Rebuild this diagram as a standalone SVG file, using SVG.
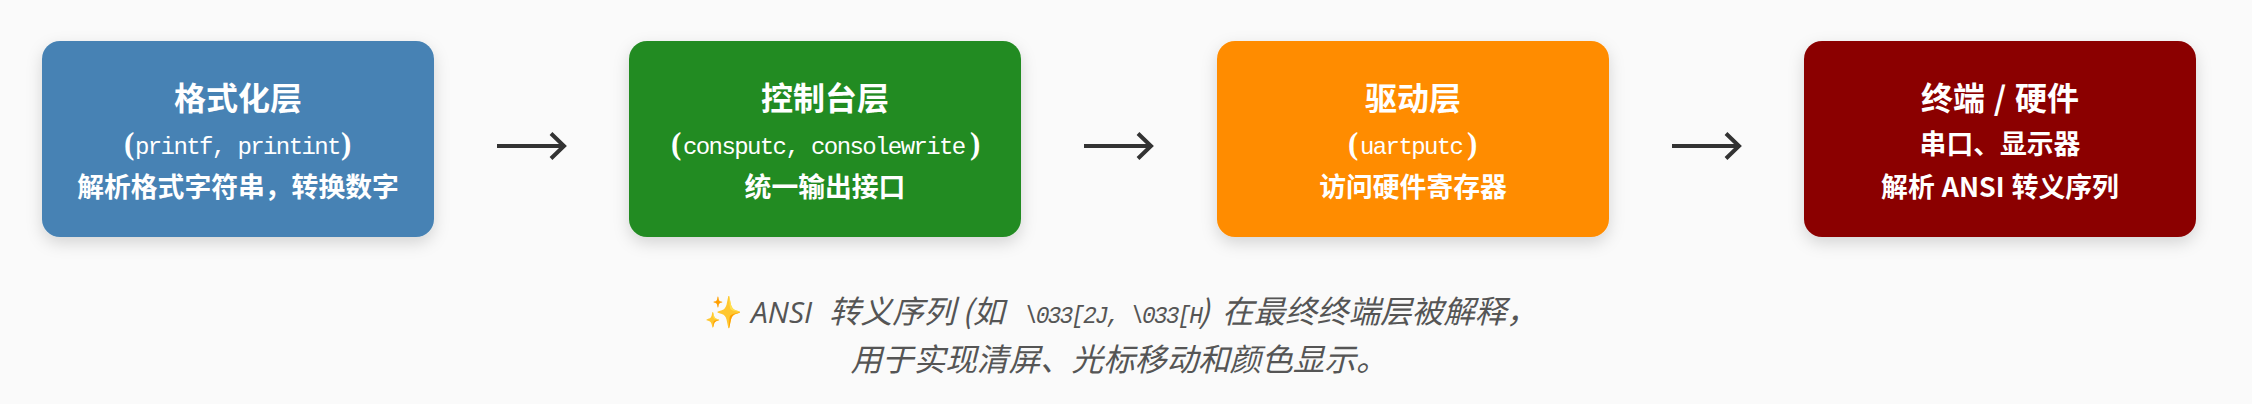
<svg xmlns="http://www.w3.org/2000/svg" width="2252" height="404" viewBox="0 0 2252 404">
<style>
text{font-family:"Noto Sans CJK SC","Noto Sans",sans-serif;text-anchor:middle}
.t{font-size:32px;font-weight:700;fill:#fff;word-spacing:1.5px}
.b{font-size:26.8px;font-weight:700;fill:#fff;word-spacing:1px}
.l{text-anchor:start}
.p{font-family:"Liberation Serif",serif;font-size:31px;font-weight:700;fill:#fff}
.c{font-family:"Liberation Mono",monospace;font-weight:400;font-size:24px;letter-spacing:-1.6px;fill:#fff}
.cap{font-size:31.6px;font-style:italic;fill:#555}
.capl{font-family:"Open Sans","Noto Sans",sans-serif;font-size:30px;font-style:italic;fill:#555}
.capc{font-family:"Liberation Mono",monospace;font-size:23px;letter-spacing:-2px;font-style:italic;fill:#555}
.em{font-size:31px;text-anchor:start;filter:hue-rotate(-18deg) saturate(1.2)}
.box{filter:url(#sh)}
.a{fill:none;stroke:#333;stroke-width:4}
</style>
<defs>
<filter id="sh" x="-15%" y="-15%" width="130%" height="135%"><feDropShadow dx="0" dy="6" stdDeviation="8" flood-color="#000" flood-opacity=".15"/></filter>
</defs>
<rect width="2252" height="404" fill="#fafafa"/>
<g id="connectors">
<path class="a" d="M497 146H563M551 133.500L564 146L551 158.500"/>
<path class="a" d="M1084 146H1150M1138 133.500L1151 146L1138 158.500"/>
<path class="a" d="M1672 146H1738M1726 133.500L1739 146L1726 158.500"/>
</g>
<g id="node-format">
<rect class="box" x="42" y="41" width="392" height="196" rx="18" fill="#4682b4"/>
<text class="t" x="238" y="110">格式化层</text>
<text class="l" y="154"><tspan class="p" x="124">(</tspan><tspan class="c" x="135">printf, printint</tspan><tspan class="p" x="341">)</tspan></text>
<text class="b" x="238" y="197">解析格式字符串，转换数字</text>
</g>
<g id="node-console">
<rect class="box" x="629" y="41" width="392" height="196" rx="18" fill="#228b22"/>
<text class="t" x="825" y="110">控制台层</text>
<text class="l" y="154"><tspan class="p" x="671">(</tspan><tspan class="c" x="683">consputc, consolewrite</tspan><tspan class="p" x="970">)</tspan></text>
<text class="b" x="825" y="197">统一输出接口</text>
</g>
<g id="node-driver">
<rect class="box" x="1217" y="41" width="392" height="196" rx="18" fill="#ff8c00"/>
<text class="t" x="1413" y="110">驱动层</text>
<text class="l" y="154"><tspan class="p" x="1348">(</tspan><tspan class="c" x="1360">uartputc</tspan><tspan class="p" x="1467">)</tspan></text>
<text class="b" x="1413" y="197">访问硬件寄存器</text>
</g>
<g id="node-terminal">
<rect class="box" x="1804" y="41" width="392" height="196" rx="18" fill="#8b0000"/>
<text class="t" x="2000" y="110">终端 / 硬件</text>
<text class="b" x="2000" y="154">串口、显示器</text>
<text class="b" x="2000" y="197">解析 ANSI 转义序列</text>
</g>
<g id="caption">
<text class="em" x="704" y="323">✨</text>
<text class="l" y="323"><tspan class="capl" x="751">ANSI</tspan><tspan class="cap" x="829">转义序列</tspan><tspan class="cap" x="962">(如</tspan><tspan class="capc" x="1024">\033[2J, \033[H</tspan><tspan class="cap" x="1199">)</tspan><tspan class="cap" x="1222">在最终终端层被解释，</tspan></text>
<text class="cap" x="1119" y="371">用于实现清屏、光标移动和颜色显示。</text>
</g>
</svg>
